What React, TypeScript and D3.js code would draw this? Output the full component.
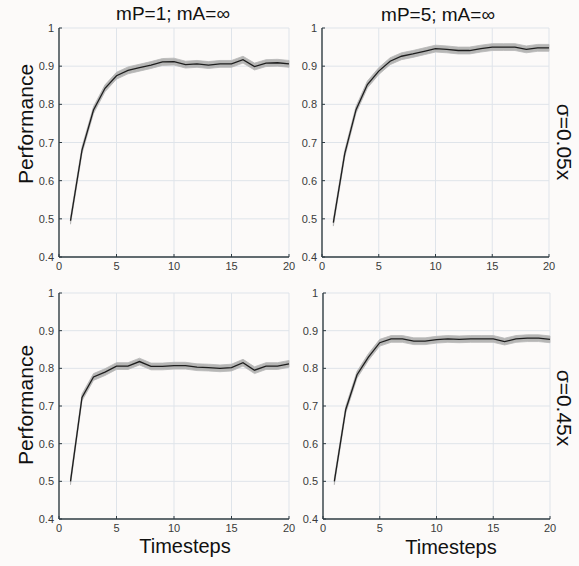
import React from "react";
import * as d3 from "d3";

const timesteps = [1, 2, 3, 4, 5, 6, 7, 8, 9, 10, 11, 12, 13, 14, 15, 16, 17, 18, 19, 20];

const perfMP1Low = [0.495, 0.68, 0.785, 0.842, 0.875, 0.889, 0.896, 0.903, 0.911, 0.912, 0.904, 0.906, 0.903, 0.906, 0.906, 0.917, 0.899, 0.908, 0.909, 0.906];
const perfMP5Low = [0.49, 0.67, 0.786, 0.852, 0.887, 0.913, 0.926, 0.932, 0.939, 0.946, 0.944, 0.941, 0.941, 0.946, 0.95, 0.95, 0.95, 0.944, 0.948, 0.948];
const perfMP1High = [0.5, 0.723, 0.777, 0.79, 0.806, 0.806, 0.818, 0.805, 0.805, 0.807, 0.807, 0.803, 0.802, 0.8, 0.802, 0.815, 0.795, 0.806, 0.806, 0.812];
const perfMP5High = [0.5, 0.69, 0.783, 0.83, 0.868, 0.878, 0.878, 0.872, 0.872, 0.876, 0.878, 0.877, 0.878, 0.878, 0.878, 0.871, 0.878, 0.88, 0.88, 0.877];

const bandHalfWidth = [0.009, 0.009, 0.009, 0.009];

const xTicks = [0, 5, 10, 15, 20];
const yTicks = [0.4, 0.5, 0.6, 0.7, 0.8, 0.9, 1];

const columnTitles = ["mP=1; mA=∞", "mP=5; mA=∞"];
const rowLabels = ["σ=0.05x", "σ=0.45x"];
const yLabel = "Performance";
const xLabel = "Timesteps";

const series = [perfMP1Low, perfMP5Low, perfMP1High, perfMP5High];

const panelBoxes = [
  { x0: 59, x1: 289, y0: 28, y1: 257 },
  { x0: 322, x1: 549, y0: 28, y1: 257 },
  { x0: 59, x1: 289, y0: 293, y1: 519 },
  { x0: 323, x1: 550, y0: 293, y1: 519 },
];

const FONT = "Arial, 'Liberation Sans', Helvetica, sans-serif";

function Panel({ idx }: { idx: number }) {
  const b = panelBoxes[idx];
  const data = series[idx];
  const hw = bandHalfWidth[idx];
  const x = d3.scaleLinear().domain([0, 20]).range([b.x0, b.x1]);
  const y = d3.scaleLinear().domain([0.4, 1]).range([b.y1, b.y0]);
  const pts = timesteps.map((t, i) => ({ t, v: data[i] }));
  const line = d3
    .line<{ t: number; v: number }>()
    .x((d) => x(d.t))
    .y((d) => y(d.v));
  const area = d3
    .area<{ t: number; v: number }>()
    .x((d) => x(d.t))
    .y0((d) => y(d.v - hw))
    .y1((d) => y(d.v + hw));
  const axisColor = "#2e3b42";
  const gridColor = "#dfe4ea";
  return (
    <g>
      {xTicks.filter((t) => t > 0).map((t) => (
        <line key={"gx" + t} x1={x(t)} x2={x(t)} y1={y(0.4)} y2={y(1)} stroke={gridColor} strokeWidth={1} />
      ))}
      {yTicks.filter((t) => t > 0.4).map((t) => (
        <line key={"gy" + t} x1={x(0)} x2={x(20)} y1={y(t)} y2={y(t)} stroke={gridColor} strokeWidth={1} />
      ))}
      <path d={area(pts) || ""} fill="#a9a9a9" fillOpacity={0.85} stroke="#b8b8b8" strokeWidth={0.8} />
      <path d={line(pts) || ""} fill="none" stroke="#1e1e1e" strokeWidth={1.3} />
      <line x1={x(0)} x2={x(0)} y1={y(0.4)} y2={y(1)} stroke={axisColor} strokeWidth={1.4} />
      <line x1={x(0)} x2={x(20)} y1={y(0.4)} y2={y(0.4)} stroke={axisColor} strokeWidth={1.4} />
      {xTicks.map((t) => (
        <g key={"xt" + t}>
          <line x1={x(t)} x2={x(t)} y1={y(0.4)} y2={y(0.4) - 3} stroke={axisColor} strokeWidth={1} />
          <text x={x(t)} y={y(0.4) + 13} textAnchor="middle" fontSize={11} fill="#3a3a3a" fontFamily={FONT}>
            {String(t)}
          </text>
        </g>
      ))}
      {yTicks.map((t) => (
        <g key={"yt" + t}>
          <line x1={x(0)} x2={x(0) + 3} y1={y(t)} y2={y(t)} stroke={axisColor} strokeWidth={1} />
          <text x={x(0) - 5} y={y(t) + 4} textAnchor="end" fontSize={11} fill="#3a3a3a" fontFamily={FONT}>
            {d3.format("~g")(t)}
          </text>
        </g>
      ))}
    </g>
  );
}

export default function App() {
  return (
    <svg width={579} height={566} style={{ position: "absolute", left: 0, top: 0, background: "#fcfaf9" }}>
      <rect x={0} y={0} width={579} height={566} fill="#fcfaf9" />
      {[0, 1, 2, 3].map((i) => (
        <Panel key={i} idx={i} />
      ))}
      <text x={173} y={20} textAnchor="middle" fontSize={19} fill="#111" fontFamily={FONT}>
        {columnTitles[0]}
      </text>
      <text x={438} y={21} textAnchor="middle" fontSize={19} fill="#111" fontFamily={FONT}>
        {columnTitles[1]}
      </text>
      <text transform="translate(33,124) rotate(-90)" textAnchor="middle" fontSize={21} fill="#111" fontFamily={FONT}>
        {yLabel}
      </text>
      <text transform="translate(33,405) rotate(-90)" textAnchor="middle" fontSize={21} fill="#111" fontFamily={FONT}>
        {yLabel}
      </text>
      <text x={185} y={553} textAnchor="middle" fontSize={20} fill="#111" fontFamily={FONT}>
        {xLabel}
      </text>
      <text x={451} y={554} textAnchor="middle" fontSize={20} fill="#111" fontFamily={FONT}>
        {xLabel}
      </text>
      <text transform="translate(557,142) rotate(90)" textAnchor="middle" fontSize={21} fill="#111" fontFamily={FONT}>
        {rowLabels[0]}
      </text>
      <text transform="translate(557,408) rotate(90)" textAnchor="middle" fontSize={21} fill="#111" fontFamily={FONT}>
        {rowLabels[1]}
      </text>
    </svg>
  );
}
